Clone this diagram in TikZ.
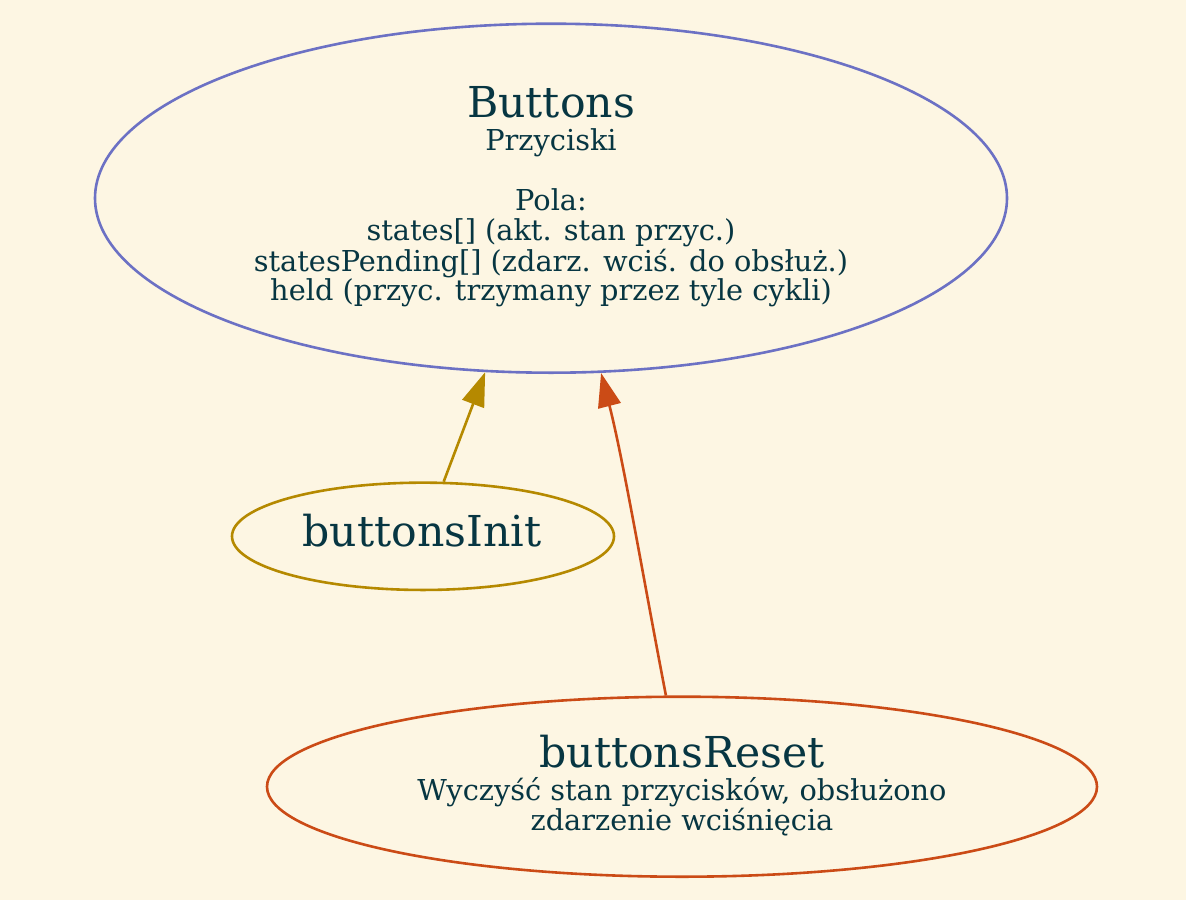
\documentclass[tikz,border=0pt]{standalone}
\usepackage{fontspec}
\setmainfont{DejaVu Serif}
\usetikzlibrary{shapes.geometric,arrows.meta}
\definecolor{bgc}{HTML}{FDF6E3}
\definecolor{txtc}{HTML}{073642}
\definecolor{violetc}{HTML}{6C71C4}
\definecolor{yellowc}{HTML}{B58900}
\definecolor{orangec}{HTML}{CB4B16}
\tikzset{
  ell/.style={ellipse, draw, line width=2.6pt, inner sep=0pt, fill=none},
  bigtxt/.style={anchor=base, inner sep=0pt, text=txtc, font=\fontsize{42.6}{42.6}\selectfont},
  smalltxt/.style={anchor=base, inner sep=0pt, text=txtc, font=\fontsize{28.8}{30.3}\selectfont},
  edge/.style={line width=2.6pt, -{Triangle[length=34pt,width=23pt]}},
}
\begin{document}
\begin{tikzpicture}[x=1pt,y=-1pt]
\fill[bgc] (0,0) rectangle (1186,900);
\useasboundingbox (0,0) rectangle (1186,900);
% nodes
\node[ell, draw=violetc, minimum width=912, minimum height=349] (buttons) at (551,198.2) {};
\node[ell, draw=yellowc, minimum width=382, minimum height=107.3] (init) at (423,536.3) {};
\node[ell, draw=orangec, minimum width=830, minimum height=180] (reset) at (682,786.7) {};
% texts
\node[bigtxt] (t1) at (551,117.3) {Buttons};
\node[smalltxt] (t2) at (551,150) {Przyciski};
\node[smalltxt] (t3) at (551,210) {Pola:};
\node[smalltxt] (t4) at (551,240.7) {states[] (akt. stan przyc.)};
\node[smalltxt] (t5) at (551,271.3) {statesPending[] (zdarz. wciś. do obsłuż.)};
\node[smalltxt] (t6) at (551,300.7) {held (przyc. trzymany przez tyle cykli)};
\node[bigtxt] (t7) at (422,546.7) {buttonsInit};
\node[bigtxt] (t8) at (682,767.3) {buttonsReset};
\node[smalltxt] (t9) at (682,800) {Wyczyść stan przycisków, obsłużono};
\node[smalltxt] (t10) at (682,830) {zdarzenie wciśnięcia};
% edges
\draw[edge, yellowc] (init) -- (buttons);
\draw[edge, orangec] (reset.100) .. controls +(-21.3,-110) and +(22.4,87.4) .. (buttons.-74.3);
\end{tikzpicture}
\end{document}
